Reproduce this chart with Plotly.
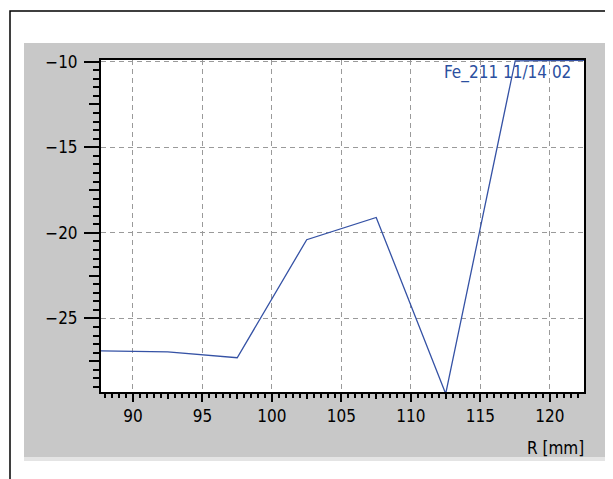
import plotly.graph_objects as go

# ---- data ----
r_mm = [87.5, 92.5, 97.5, 102.5, 107.5, 112.5, 117.5, 122.5]
values = [-26.9, -26.95, -27.3, -20.4, -19.1, -29.4, -9.95, -9.92]
x_ticks = [90, 95, 100, 105, 110, 115, 120]
x_mid_ticks = [87.5, 92.5, 97.5, 102.5, 107.5, 112.5, 117.5, 122.5]
y_ticks = [-10, -15, -20, -25]
y_mid_ticks = [-12.5, -17.5, -22.5, -27.5]
series_label = "Fe_211 11/14 02"
x_title = "R [mm]"

W, H = 613, 479
OFF = 8  # page body margin
L, R, T, B = 101, 584, 60, 392  # plot area in screen pixels
PW, PH = R - L, B - T
XR = [87.7, 122.45]
YR = [-29.3, -9.9]


def px(p):
    return (p - L) / PW


def py(q):
    return (B - q) / PH


FONT = "Liberation Sans Narrow, Arial Narrow, DejaVu Sans Condensed, sans-serif"

fig = go.Figure()
fig.add_trace(go.Scatter(x=r_mm, y=values, mode="lines",
                         line=dict(color="#3552a5", width=1.3),
                         showlegend=False, hoverinfo="skip"))
# invisible trace carrying the mid-tick overlay axes
fig.add_trace(go.Scatter(x=r_mm[:1], y=values[:1], xaxis="x2", yaxis="y2", mode="markers",
                         marker=dict(opacity=0), showlegend=False, hoverinfo="skip"))

shapes = [
    dict(type="rect", xref="paper", yref="paper", x0=px(10), x1=px(760), y0=py(11), y1=py(620),
         line=dict(color="black", width=1.5), fillcolor="rgba(0,0,0,0)", layer="below"),
    dict(type="rect", xref="paper", yref="paper", x0=px(24), x1=px(608), y0=py(43), y1=py(457),
         line=dict(width=0), fillcolor="#c8c8c8", layer="below"),
    dict(type="rect", xref="paper", yref="paper", x0=px(24), x1=px(608), y0=py(457), y1=py(461),
         line=dict(width=0), fillcolor="#e4e4e4", layer="below"),
    dict(type="rect", xref="paper", yref="paper", x0=0, x1=1, y0=0, y1=1,
         line=dict(width=0), fillcolor="white", layer="below"),
]

fig.update_layout(
    width=W, height=H,
    margin=dict(l=L - OFF, r=W - (R - OFF), t=T - OFF, b=H - (B - OFF), pad=0),
    paper_bgcolor="white", plot_bgcolor="white",
    font=dict(family=FONT, size=17, color="black"),
    shapes=shapes,
    xaxis=dict(range=XR, tickvals=x_ticks, ticks="outside", ticklen=8, tickwidth=2,
               tickcolor="black", showline=True, linewidth=2, linecolor="black", mirror=True,
               showgrid=True, gridcolor="#9a9a9a", gridwidth=1, griddash="5px,4px",
               zeroline=False, ticklabelstandoff=0,
               minor=dict(dtick=0.5, tick0=0, ticks="outside", ticklen=4, tickwidth=1.5,
                          tickcolor="black", showgrid=False)),
    yaxis=dict(range=YR, tickvals=y_ticks, ticks="outside", ticklen=15, tickwidth=2,
               tickcolor="black", showline=True, linewidth=2, linecolor="black", mirror=True,
               showgrid=True, gridcolor="#9a9a9a", gridwidth=1, griddash="5px,4px",
               zeroline=False, ticklabelstandoff=3,
               minor=dict(dtick=0.5, tick0=0, ticks="outside", ticklen=6, tickwidth=1.5,
                          tickcolor="black", showgrid=False)),
    xaxis2=dict(overlaying="x", anchor="y", side="bottom", range=XR, tickvals=x_mid_ticks,
                ticks="outside", ticklen=6, tickwidth=1.5, tickcolor="black",
                showticklabels=False, showgrid=False, showline=False, zeroline=False),
    yaxis2=dict(overlaying="y", anchor="x", side="left", range=YR, tickvals=y_mid_ticks,
                ticks="outside", ticklen=11, tickwidth=1.5, tickcolor="black",
                showticklabels=False, showgrid=False, showline=False, zeroline=False),
    annotations=[
        dict(text=series_label, xref="paper", yref="paper", x=px(573), y=py(72),
             xanchor="right", yanchor="middle", showarrow=False,
             font=dict(family=FONT, size=17, color="#2b4fa0")),
        dict(text=x_title, xref="paper", yref="paper", x=px(586), y=py(448),
             xanchor="right", yanchor="middle", showarrow=False,
             font=dict(family=FONT, size=17, color="black")),
    ],
)

fig.write_html("out.html")
